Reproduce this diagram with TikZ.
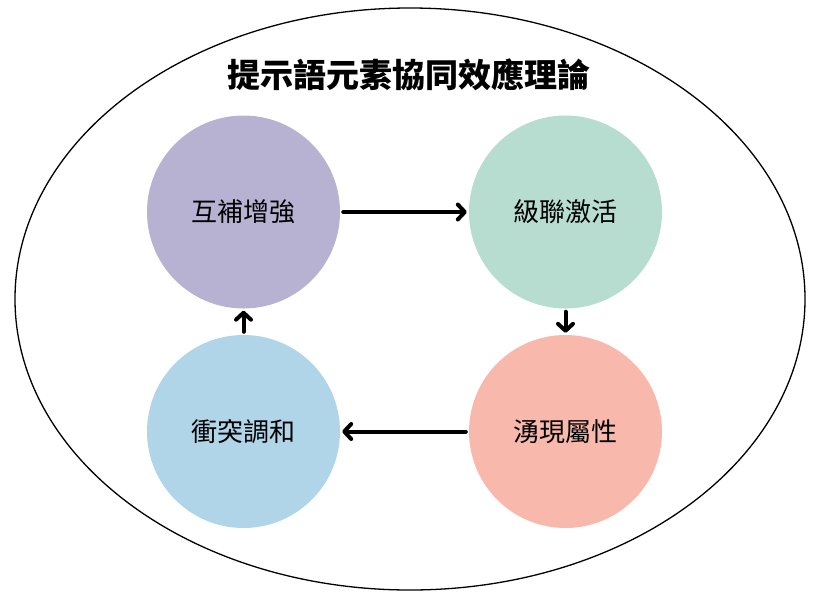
\documentclass[tikz,border=0pt]{standalone}
\usepackage{fontspec}
\newfontfamily\cjk{Noto Sans CJK TC}
\usetikzlibrary{arrows.meta}
\definecolor{purpleC}{HTML}{B7B2D2}
\definecolor{greenC}{HTML}{B6DDD0}
\definecolor{blueC}{HTML}{B0D5E9}
\definecolor{redC}{HTML}{F8B9AC}
\begin{document}
\begin{tikzpicture}[x=1pt,y=-1pt,
    phase/.style={circle,minimum size=193pt,inner sep=0pt,font=\cjk\fontsize{26}{26}\selectfont},
    flow/.style={line width=4pt,line cap=round,-{Straight Barb[length=7pt,width=15pt,line cap=round,line join=round]},shorten <=3pt,shorten >=2pt}]
    \useasboundingbox (0,0) rectangle (818,600);
    \draw[line width=1.3pt] (410,299) ellipse [x radius=395pt,y radius=291pt];
    \node (title) at (409,75) {\cjk\bfseries\fontsize{33}{33}\selectfont 提示語元素協同效應理論};
    \node[phase,fill=purpleC] (A) at (243.5,212) {互補增強};
    \node[phase,fill=greenC] (B) at (565.5,212) {級聯激活};
    \node[phase,fill=redC] (C) at (565.5,431.5) {湧現屬性};
    \node[phase,fill=blueC] (D) at (243.5,431.5) {衝突調和};
    \draw[flow] (A) -- (B);
    \draw[flow] (B) -- (C);
    \draw[flow] (C) -- (D);
    \draw[flow] (D) -- (A);
\end{tikzpicture}
\end{document}
